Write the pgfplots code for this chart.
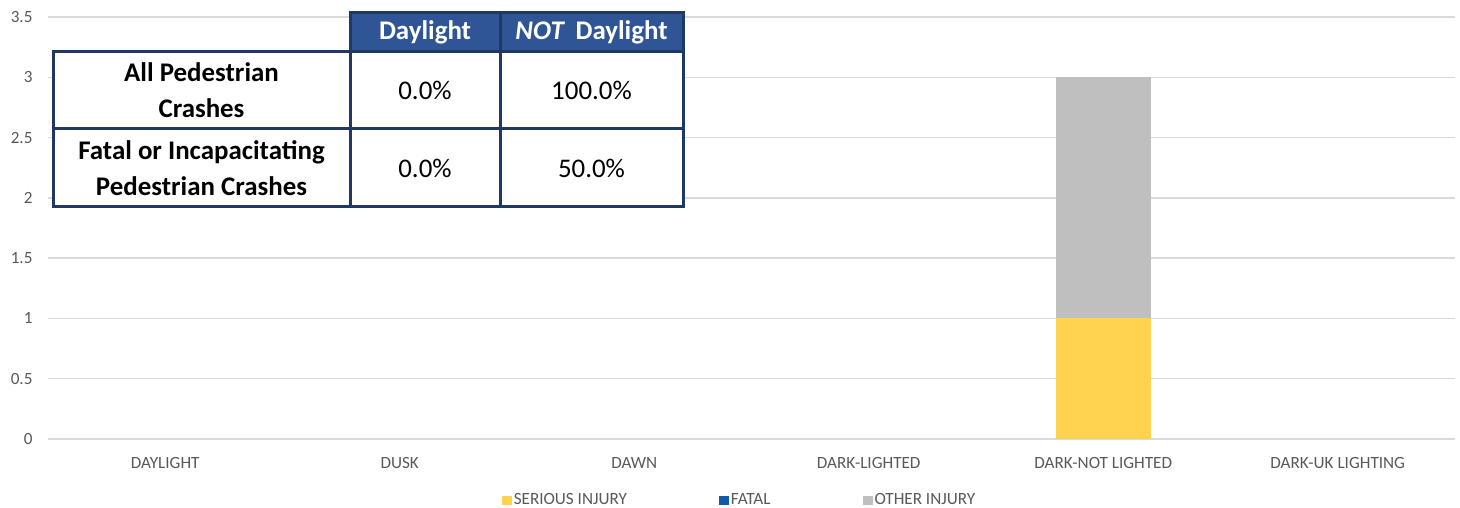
\documentclass[border=0pt]{standalone}
\usepackage{fontspec}
\setmainfont{Carlito}
\usepackage{pgfplots}
\pgfplotsset{compat=1.18}
\definecolor{serious}{HTML}{FFD34F}
\definecolor{fatal}{HTML}{0E5CA8}
\definecolor{other}{HTML}{BFBFBF}
\definecolor{gridc}{HTML}{D9D9D9}
\definecolor{txt}{HTML}{595959}
\definecolor{navy}{HTML}{1F3864}
\definecolor{hdr}{HTML}{2F5597}
\begin{document}
\begin{tikzpicture}
\useasboundingbox (0,0) rectangle (1460bp,508bp);
\begin{axis}[
  at={(48bp,69bp)}, anchor=south west,
  scale only axis, width=1407bp, height=422bp,
  xmin=-0.5, xmax=5.5, ymin=0, ymax=3.5,
  ybar stacked, bar width=95bp,
  xtick={0,1,2,3,4,5},
  xticklabels={DAYLIGHT,DUSK,DAWN,DARK-LIGHTED,DARK-NOT LIGHTED,DARK-UK LIGHTING},
  ytick={0,0.5,1,1.5,2,2.5,3,3.5},
  yticklabels={0,0.5,1,1.5,2,2.5,3,3.5},
  major tick length=0pt,
  ymajorgrids, major grid style={gridc, line width=1.5bp},
  axis line style={draw=none},
  tick label style={font=\fontsize{17.2}{20}\selectfont, text=txt},
  xticklabel shift=15bp, yticklabel shift=12bp,
  legend style={at={(0.4915,-0.145)}, anchor=center, draw=none,
    font=\fontsize{17.2}{20}\selectfont, text=txt,
    legend columns=3,
    nodes={text depth=3bp, text height=11bp},
    /tikz/every even column/.append style={column sep=90bp},
    inner sep=0pt},
  legend cell align=left,
  legend image code/.code={\fill[#1] (-2bp,-4.5bp) rectangle (8bp,4.5bp);},
]
\addplot[fill=serious, draw=none] coordinates {(0,0) (1,0) (2,0) (3,0) (4,1) (5,0)};
\addplot[fill=fatal, draw=none] coordinates {(0,0) (1,0) (2,0) (3,0) (4,0) (5,0)};
\addplot[fill=other, draw=none] coordinates {(0,0) (1,0) (2,0) (3,0) (4,2) (5,0)};
\legend{SERIOUS INJURY, FATAL, OTHER INJURY}
\end{axis}
% overlay summary table
\fill[hdr] (350bp,456bp) rectangle (683bp,495bp);
\fill[white] (53bp,301bp) rectangle (683bp,456bp);
\begin{scope}[line width=3bp, navy]
\draw (350bp,456bp) rectangle (683bp,495bp);
\draw (500bp,456bp) -- (500bp,495bp);
\draw (53bp,301bp) rectangle (683bp,456bp);
\draw (53bp,379bp) -- (683bp,379bp);
\draw (350bp,301bp) -- (350bp,456bp);
\draw (500bp,301bp) -- (500bp,456bp);
\end{scope}
\begin{scope}[every node/.style={align=center, inner sep=0pt}]
\node[white, font=\fontsize{27}{30}\selectfont\bfseries] at (425bp,475.5bp) {Daylight};
\node[white, font=\fontsize{27}{30}\selectfont\bfseries] at (591.5bp,475.5bp) {\textit{NOT}\, Daylight};
\node[font=\fontsize{27}{36}\selectfont\bfseries] at (201.5bp,417.5bp) {All Pedestrian\\Crashes};
\node[font=\fontsize{27}{36}\selectfont\bfseries] at (201.5bp,340bp) {Fatal or Incapacitating\\Pedestrian Crashes};
\node[font=\fontsize{27}{30}\selectfont] at (425bp,417.5bp) {0.0\%};
\node[font=\fontsize{27}{30}\selectfont] at (591.5bp,417.5bp) {100.0\%};
\node[font=\fontsize{27}{30}\selectfont] at (425bp,340bp) {0.0\%};
\node[font=\fontsize{27}{30}\selectfont] at (591.5bp,340bp) {50.0\%};
\end{scope}
\end{tikzpicture}
\end{document}
